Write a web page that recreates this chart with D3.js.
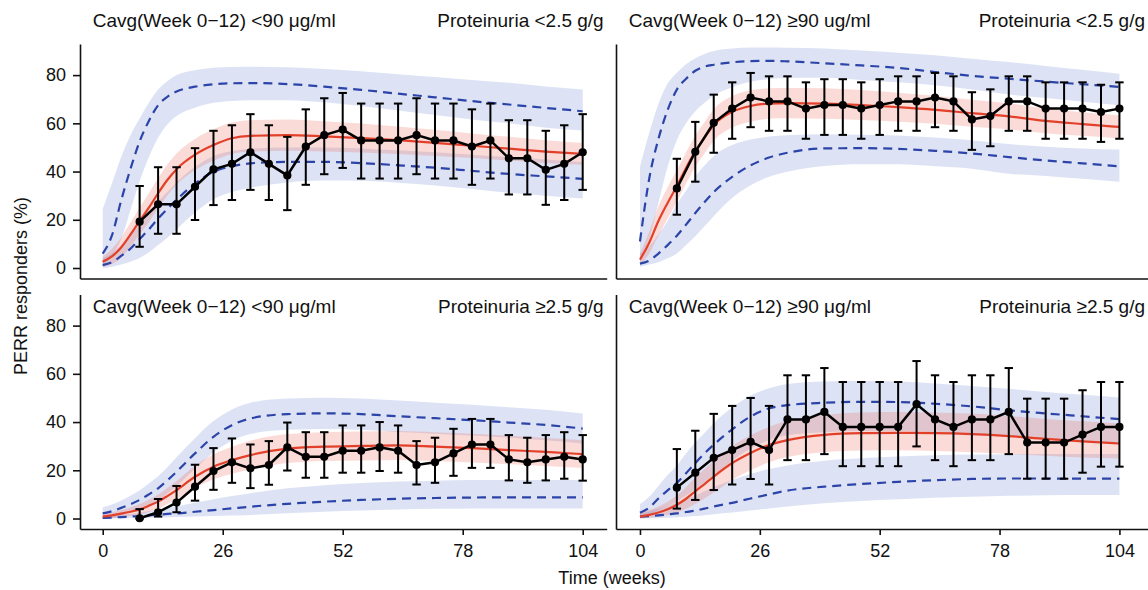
<!DOCTYPE html>
<html>
<head>
<meta charset="utf-8">
<script src="https://d3js.org/d3.v7.min.js"></script>
<style>
body { margin: 0; background: #fff; }
svg text { font-family: "Liberation Sans", Arial, sans-serif; fill: #111; }
.axis path, .axis line { stroke: #111; stroke-width: 1.6; }
.axis text { font-size: 18px; font-family: "Liberation Sans", Arial, sans-serif; fill: #111; }
</style>
</head>
<body>
<div id="chart"></div>
<script>
// observed time points and model grid (weeks)
const weeksObs = [8,12,16,20,24,28,32,36,40,44,48,52,56,60,64,68,72,76,80,84,88,92,96,100,104];
const weeksModel = [0,2,4,6,8,10,12,14,16,20,24,28,32,40,48,56,64,72,80,88,96,104];
const xTicks = [0,26,52,78,104];
const yTicks = [0,20,40,60,80];

// top left: Cavg <90, proteinuria <2.5
const tlObs   = [19.2,26.4,26.4,33.7,40.9,43.2,48,43.2,38.4,50.4,55.1,57.4,52.9,52.9,52.9,55.1,52.9,52.9,50.4,52.9,45.5,45.5,40.7,43.2,48];
const tlObsHi = [34,41.8,41.8,49.7,56.9,59.2,63.8,59.2,54.4,65.8,70.4,72.6,68.2,68.2,68.2,70.4,68.2,68.2,65.8,68.2,61.3,61.3,56.9,59.2,63.8];
const tlObsLo = [8.8,14.2,14.2,19.9,26.1,28.2,32.4,28.2,24,34.5,38.9,41.5,37.1,37.1,37.1,38.9,37.1,37.1,34.5,37.1,30.5,30.5,26.2,28.2,32.4];
const tlMed   = [2.6,4.8,8.5,13.8,19.5,25,31,36.5,41,47,51,53.8,54.8,55.1,54.6,53.9,53,51.9,50.7,49.5,48.3,47.3];
const tlMedLo = [0.4,1.6,4.3,8.8,14,19,24.8,30.1,34.5,40.5,44.5,47.3,48.3,48.6,48.3,47.9,47.3,46.5,45.6,44.6,43.6,42.8];
const tlMedHi = [4.8,8,12.7,18.8,25,31,37.2,42.9,47.5,53.5,57.5,60.3,61.3,61.6,60.9,59.9,58.7,57.3,55.8,54.4,53,51.8];
const tlUp    = [6,13.5,28,41,52.5,61,67.5,71,73.2,75.2,76.2,76.6,76.7,76.3,75.2,73.9,72.3,70.8,69.2,67.8,66.4,65];
const tlUpLo  = [1,5,12,24,36,46,54,59.5,63,66.5,68.5,69.3,69.6,69.6,68.7,67.2,65.3,63.5,61.6,60,58.2,57];
const tlUpHi  = [24.5,35,46,55,62,68.5,74,77.5,80,82,83,83.4,83.5,83.3,82.5,81.6,80.4,79.2,78,76.8,75.3,74];
const tlLow   = [1.2,2.4,5,8,12,16,20.5,24.5,28.3,35,39.9,42.2,43.4,44,44,43.5,42.6,41.6,40.3,39,38,37];
const tlLowLo = [0,0.5,1.5,2.6,4.2,6.5,9.5,12.5,16,23,28.5,31.5,33.3,35.5,36.3,36.2,35.4,34.2,32.8,31.2,30,28.8];
const tlLowHi = [4,6,9.5,13.5,18,22.5,27.5,31.5,35.5,42,46.5,48.5,49.5,50,50,49.6,48.8,48,47,46,45,44];

// top right: Cavg >=90, proteinuria <2.5
const trObs   = [33,48.2,60.2,66.1,70.7,69.1,69.1,66.1,67.6,67.6,66.1,67.6,69.1,69.1,70.7,69.1,61.6,63,69.1,69.1,66.1,66.1,66.1,64.7,66.1];
const trObsHi = [45.3,60.6,71.9,77,80.9,79.5,79.5,77,78.3,78.3,77,78.3,79.5,79.5,80.9,79.5,72.9,74.1,79.5,79.5,77,77,77,76,77];
const trObsLo = [22.1,35.8,47.8,53.6,58.4,56.9,56.9,53.6,55.2,55.2,53.6,55.2,56.9,56.9,58.4,56.9,49,50.5,56.9,56.9,53.6,53.6,53.6,52.3,53.6];
const trMed   = [3.5,10.5,19.5,27,34,41.5,48.5,54,59.3,64.8,67.2,68.2,68.4,68.2,67.6,66.7,65.6,64.2,62.9,61,59.7,58.5];
const trMedLo = [1,6,13.5,20.5,27.5,35,42,47.5,52.8,58.3,60.7,61.9,62.1,61.9,61.4,60.7,59.8,58.6,57.5,55.9,54.8,53.7];
const trMedHi = [6,15,25.5,33.5,40.5,48,55,60.5,65.8,71.3,73.7,74.5,74.7,74.5,73.8,72.7,71.4,69.8,68.3,66.1,64.6,63.3];
const trUp    = [11,37,53.5,65.5,74,78.5,81.8,83.5,84.3,85.3,85.8,85.9,85.7,84.9,84,83,81.3,79.7,78.5,77.3,76.2,75.1];
const trUpLo  = [5,12,27,42,53,60,65,68.5,71.5,75,77.2,78.4,78.8,78.9,78,77,75.8,74,72,70.5,69,67.5];
const trUpHi  = [42,56,68,76.5,81,84.5,87,88.8,90,91,91.4,91.4,91.3,91,90.2,89.3,88.2,86.8,85.4,83.8,82.2,80.6];
const trLow   = [1.8,3.1,6,9.5,13.4,18,22.8,27.3,31.5,37.8,42.6,45.8,47.8,49.6,49.7,49.4,48.6,47.5,46,44.6,43.4,42.2];
const trLowLo = [0.5,1.5,2.4,4,6,9.5,13.2,17.3,21.5,29,34.3,37.8,39.9,42.3,43,43,42.2,41.2,39.1,38.2,37,35.8];
const trLowHi = [6,9,14,19.5,26.5,32,38,42.5,46.5,51,53.3,54.5,55.1,55.5,55.3,55,54.1,53,51.4,50.3,49.6,49.1];

// bottom left: Cavg <90, proteinuria >=2.5
const blObs   = [0.1,2.6,6.6,13.2,19.7,23.3,20.8,22.2,29.5,25.6,25.6,28.1,28.1,29.5,28.1,22.2,23.3,27,30.7,30.7,24.5,23.3,24.5,25.6,24.5];
const blObsHi = [3.9,8.1,13.5,22.3,29.2,33.2,30.7,32.1,39.8,35.8,35.8,38.6,38.6,40,38.6,32.1,33.5,37.2,41.3,41.3,34.6,33.5,34.6,35.8,34.6];
const blObsLo = [0,0.8,2.6,7.4,11.9,14.8,12.6,14,19.9,16.9,16.9,19,19,19.7,19,14.1,14.8,17.7,21,21,15.8,14.8,15.8,16.5,15.7];
const blMed   = [0.8,1.3,2,2.8,3.8,5.3,7,9.3,11.8,17.3,21.5,24.2,26.3,29,29.8,30.1,30.3,29.8,29.2,28.4,27.6,26.7];
const blMedLo = [0,0.1,0.5,1,1.6,2.7,4,5.9,8,12.7,16.3,18.6,20.3,23,23.8,24.1,24.3,23.8,23.2,22.5,21.8,20.9];
const blMedHi = [1.8,2.5,3.5,4.6,6,7.9,10,12.7,15.6,21.9,26.7,29.8,32.3,35,35.8,36.1,36.3,35.8,35.2,34.3,33.4,32.5];
const blUp    = [2.1,3,4.4,5.9,7.7,10,12.5,15.8,19.4,27,33.9,38.7,41.5,43.3,43.6,43.3,42.4,41.6,40.8,39.8,38.8,37.3];
const blUpLo  = [0,0.2,1.3,2.4,3.7,5.5,7.5,10.3,13.4,20.7,27.4,32.2,35,36.8,37.1,36.8,35.9,35.2,34.4,33.5,32.5,31.1];
const blUpHi  = [4.6,5.8,7.5,9.4,11.7,14.5,17.5,21.3,25.4,33.3,40.4,45.2,48,49.8,50.1,49.8,48.9,48,47.2,46.1,45.1,43.5];
const blLow   = [0.3,0.4,0.6,0.8,1,1.3,1.6,1.9,2.1,2.8,3.5,4.2,4.9,6.1,7,7.7,8.2,8.5,8.7,8.8,8.8,8.8];
const blLowLo = [0,0.1,0.1,0.2,0.3,0.35,0.4,0.5,0.6,0.8,1,1.2,1.5,2.2,2.8,3.3,3.7,4,4.2,4.2,4.2,4.2];
const blLowHi = [1,1.3,1.6,2,2.5,3.1,3.7,4.3,5,6.5,8,9.3,10.5,12.5,13.8,14.7,15.3,15.7,16,16,16,16];

// bottom right: Cavg >=90, proteinuria >=2.5
const brObs   = [12.8,19,25.2,28.4,31.8,28.4,41.1,41.1,44.2,38,38,38,38,47.4,41.1,38,41.1,41.1,44.2,31.5,31.5,31.5,34.8,38,38];
const brObsHi = [28.8,36.4,43.4,46.7,50,46.7,59.4,59.4,62.4,56.6,56.6,56.6,56.6,65.3,59.4,56.6,59.4,59.4,62.4,49.7,49.7,49.7,53.2,56.6,56.6];
const brObsLo = [4.1,7.7,11.8,14.1,16.4,14.1,24.2,24.2,26.7,21.7,21.7,21.7,21.7,29.9,24.2,21.7,24.2,24.2,26.7,16.5,16.5,16.5,19,21.5,21.5];
const brMed   = [0.8,1.5,2.5,3.8,5.7,8.2,11.3,14.3,17.4,23,27.2,30.5,32.5,34.7,35.4,35.5,35.4,35,34.2,33,32,31.1];
const brMedLo = [0,0.3,0.8,1.5,2.5,4,6,8.3,10.8,16,20,23.3,25.5,27.5,28.2,28.3,28,27.5,26.8,26,25.3,24.9];
const brMedHi = [2.5,3.5,5,7,9.5,13,17,20.5,24,30,34.5,38,40.5,43,44,44.2,44,43.5,42.5,41.3,40.3,39.4];
const brUp    = [2.4,4.5,8.3,11.7,14.8,18.8,23,27,30.6,37,42.3,45.7,47,48,48.4,48.3,47.6,46.5,44.9,43.6,42.4,41.2];
const brUpLo  = [0.5,1.5,3.5,5.2,7,9.5,12,15,18,24,29,32.5,34.5,35.8,36.3,36.3,35.8,35,34,32.8,31.8,31];
const brUpHi  = [6,9,13.5,18,22,27,31.5,35.5,39.5,46,51,54,55.8,56.8,57,56.8,56,55,53.8,52.5,51.3,50.2];
const brLow   = [0.8,1,1.3,1.7,2.1,2.7,3.3,4.1,5,6.5,8.3,10,11.6,13.2,14.3,15.2,15.9,16.4,16.6,16.6,16.5,16.5];
const brLowLo = [0,0.1,0.2,0.35,0.5,0.75,1,1.4,1.8,2.5,3.3,4.2,5,6.3,7.3,8,8.6,9,9.4,9.6,9.7,9.7];
const brLowHi = [2,3,4,5.2,6.5,8,9.5,11.3,13,16,18.5,20.5,22,24,25,25.7,26.2,26.5,26.7,26.8,26.8,26.8];

const panels = [
    {row: 0, col: 0, left: 'Cavg(Week 0\u221212) <90 \u03bcg/ml', right: 'Proteinuria <2.5 g/g',
     obs: tlObs, obsLo: tlObsLo, obsHi: tlObsHi, med: tlMed, medLo: tlMedLo, medHi: tlMedHi,
     up: tlUp, upLo: tlUpLo, upHi: tlUpHi, low: tlLow, lowLo: tlLowLo, lowHi: tlLowHi},
    {row: 0, col: 1, left: 'Cavg(Week 0\u221212) \u226590 ug/ml', right: 'Proteinuria <2.5 g/g',
     obs: trObs, obsLo: trObsLo, obsHi: trObsHi, med: trMed, medLo: trMedLo, medHi: trMedHi,
     up: trUp, upLo: trUpLo, upHi: trUpHi, low: trLow, lowLo: trLowLo, lowHi: trLowHi},
    {row: 1, col: 0, left: 'Cavg(Week 0\u221212) <90 \u03bcg/ml', right: 'Proteinuria \u22652.5 g/g',
     obs: blObs, obsLo: blObsLo, obsHi: blObsHi, med: blMed, medLo: blMedLo, medHi: blMedHi,
     up: blUp, upLo: blUpLo, upHi: blUpHi, low: blLow, lowLo: blLowLo, lowHi: blLowHi},
    {row: 1, col: 1, left: 'Cavg(Week 0\u221212) \u226590 \u03bcg/ml', right: 'Proteinuria \u22652.5 g/g',
     obs: brObs, obsLo: brObsLo, obsHi: brObsHi, med: brMed, medLo: brMedLo, medHi: brMedHi,
     up: brUp, upLo: brUpLo, upHi: brUpHi, low: brLow, lowLo: brLowLo, lowHi: brLowHi}
];

document.addEventListener('DOMContentLoaded', function(){
    drawChart();
});

function drawChart() {
    const svg = d3.select('#chart').append('svg').attr('width', 1148).attr('height', 590);

    const cols = [
        {x0: 80, x1: 606.7, dom: [-4.92, 109.2]},
        {x0: 616, x1: 1148, dom: [-5.2, 110.2]}
    ];
    const rows = [
        {y0: 44, y1: 278.5, text: 26.5},
        {y0: 294.5, y1: 529, text: 312.5}
    ];

    panels.forEach(function(p) {
        const c = cols[p.col], r = rows[p.row];
        const x = d3.scaleLinear().domain(c.dom).range([c.x0, c.x1]);
        const y = d3.scaleLinear().domain([-4.35, 92.9]).range([r.y1, r.y0]);
        const g = svg.append('g');

        function band(lo, hi) {
            return d3.area()
                .x(function(d) { return x(d); })
                .y0(function(d, i) { return y(lo[i]); })
                .y1(function(d, i) { return y(hi[i]); })
                .curve(d3.curveMonotoneX)(weeksModel);
        }
        function curve(vals) {
            return d3.line()
                .x(function(d) { return x(d); })
                .y(function(d, i) { return y(vals[i]); })
                .curve(d3.curveMonotoneX)(weeksModel);
        }

        // prediction bands
        g.append('path').attr('d', band(p.upLo, p.upHi)).attr('fill', '#4563c8').attr('fill-opacity', 0.18);
        g.append('path').attr('d', band(p.lowLo, p.lowHi)).attr('fill', '#4563c8').attr('fill-opacity', 0.18);
        g.append('path').attr('d', band(p.medLo, p.medHi)).attr('fill', '#ee5a4a').attr('fill-opacity', 0.22);

        // percentile lines
        [p.up, p.low].forEach(function(v) {
            g.append('path').attr('d', curve(v))
                .attr('fill', 'none').attr('stroke', '#2c44a8').attr('stroke-width', 2.2)
                .attr('stroke-dasharray', '9,6');
        });
        g.append('path').attr('d', curve(p.med))
            .attr('fill', 'none').attr('stroke', '#e3402a').attr('stroke-width', 2.2);

        // observed with error bars
        const obs = g.append('g');
        obs.selectAll('line.err').data(weeksObs).enter().append('line')
            .attr('class', 'err')
            .attr('x1', function(d) { return x(d); }).attr('x2', function(d) { return x(d); })
            .attr('y1', function(d, i) { return y(p.obsLo[i]); })
            .attr('y2', function(d, i) { return y(p.obsHi[i]); })
            .attr('stroke', '#000').attr('stroke-width', 2);
        [p.obsLo, p.obsHi].forEach(function(v) {
            obs.selectAll(null).data(weeksObs).enter().append('line')
                .attr('x1', function(d) { return x(d) - 4.2; })
                .attr('x2', function(d) { return x(d) + 4.2; })
                .attr('y1', function(d, i) { return y(v[i]); })
                .attr('y2', function(d, i) { return y(v[i]); })
                .attr('stroke', '#000').attr('stroke-width', 2);
        });
        obs.append('path')
            .attr('d', d3.line().x(function(d) { return x(d); }).y(function(d, i) { return y(p.obs[i]); })(weeksObs))
            .attr('fill', 'none').attr('stroke', '#000').attr('stroke-width', 2.5);
        obs.selectAll('circle').data(weeksObs).enter().append('circle')
            .attr('cx', function(d) { return x(d); })
            .attr('cy', function(d, i) { return y(p.obs[i]); })
            .attr('r', 4.1).attr('fill', '#000');

        // axes
        svg.append('g').attr('class', 'axis')
            .attr('transform', 'translate(0,' + r.y1 + ')')
            .call(d3.axisBottom(x).tickValues(p.row === 1 ? xTicks : []).tickSize(6).tickSizeOuter(0).tickPadding(9));
        svg.append('g').attr('class', 'axis')
            .attr('transform', 'translate(' + c.x0 + ',0)')
            .call(d3.axisLeft(y).tickValues(p.col === 0 ? yTicks : []).tickSize(7).tickSizeOuter(0).tickPadding(7));

        // strip labels
        svg.append('text').attr('x', c.x0 + 12.7).attr('y', r.text)
            .style('font-size', '19px').text(p.left);
        svg.append('text').attr('x', c.x1 - 3).attr('y', r.text)
            .attr('text-anchor', 'end').style('font-size', '19px').text(p.right);
    });

    svg.append('text')
        .attr('transform', 'translate(26.5,286) rotate(-90)')
        .attr('text-anchor', 'middle').style('font-size', '18px')
        .text('PERR responders (%)');
    svg.append('text')
        .attr('x', 612).attr('y', 584)
        .attr('text-anchor', 'middle').style('font-size', '18px')
        .text('Time (weeks)');
}
</script>
</body>
</html>
